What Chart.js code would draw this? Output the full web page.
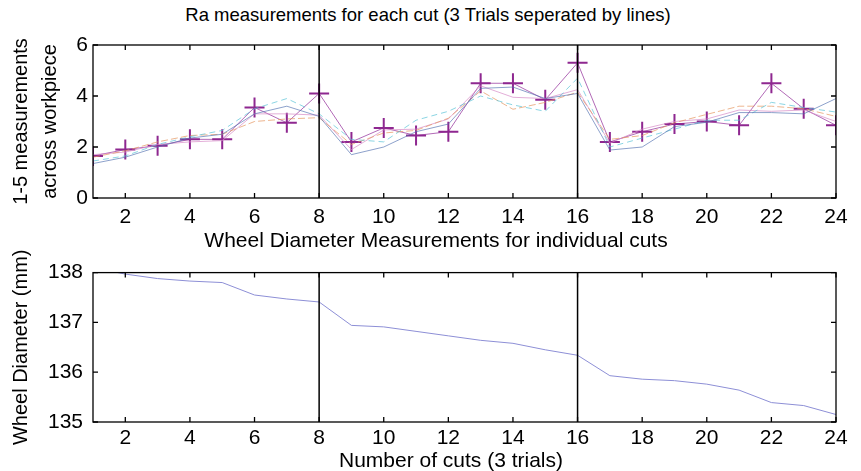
<!DOCTYPE html>
<html>
<head>
<meta charset="utf-8">
<script src="https://cdn.jsdelivr.net/npm/chart.js@4/dist/chart.umd.min.js"></script>
<style>
  body { margin: 0; background: #fff; width: 861px; height: 471px; overflow: hidden; position: relative; font-family: "Liberation Sans", Arial, sans-serif; }
  .box { position: absolute; left: 0; width: 861px; }
  .txt { position: absolute; left: 0; text-align: center; color: #000; white-space: nowrap; }
</style>
</head>
<body>

<div class="txt" style="top:5px;width:856px;font-size:18.5px;line-height:20px;">Ra measurements for each cut (3 Trials seperated by lines)</div>
<div class="box" style="top:0;height:250px;"><canvas id="ra" width="861" height="250"></canvas></div>
<div class="txt" style="top:228px;width:872px;font-size:21px;line-height:24px;">Wheel Diameter Measurements for individual cuts</div>
<div class="box" style="top:250px;height:221px;"><canvas id="wheel" width="861" height="221"></canvas></div>
<div class="txt" style="top:448px;width:902px;font-size:21px;line-height:24px;">Number of cuts (3 trials)</div>

<script>
// cut number 1..24, 3 trials of 8 cuts
const cuts = [1,2,3,4,5,6,7,8,9,10,11,12,13,14,15,16,17,18,19,20,21,22,23,24];
const trialBreaks = [8, 16];
const xTicks = [2,4,6,8,10,12,14,16,18,20,22,24];

// Ra, 5 measurements across the workpiece (the marked one is drawn with +)
const raMarked = [1.65,1.9,2.05,2.3,2.3,3.55,2.95,4.1,2.2,2.75,2.45,2.6,4.5,4.5,3.85,5.3,2.2,2.6,2.9,3.0,2.85,4.5,3.5,2.85];
const raBlue   = [1.35,1.6,2.0,2.35,2.5,3.3,3.6,3.2,1.7,2.0,2.6,2.9,4.3,4.35,3.9,4.1,1.88,2.0,2.8,2.97,3.35,3.35,3.3,3.9];
const raCyan   = [1.45,1.65,2.1,2.4,2.65,3.5,3.9,3.3,2.3,2.2,3.05,3.4,4.0,3.65,3.4,4.7,2.0,2.35,2.7,3.05,3.05,3.75,3.55,3.37];
const raOrange = [1.6,1.85,2.2,2.45,2.5,3.0,3.1,3.15,2.1,2.55,2.65,3.13,4.2,3.48,3.75,4.15,2.3,2.45,2.95,3.28,3.6,3.6,3.5,3.2];
const raPink   = [1.7,1.8,2.1,2.2,2.25,3.3,3.3,3.25,1.9,2.67,2.7,3.1,4.4,3.95,3.9,4.25,2.15,2.7,3.0,3.1,3.45,3.4,3.45,3.0];
const raTicks = [0,2,4,6];

// wheel diameter (mm)
const diameter = [138.1,137.97,137.88,137.83,137.8,137.55,137.47,137.41,136.94,136.91,136.82,136.73,136.64,136.58,136.45,136.34,135.93,135.86,135.83,135.76,135.64,135.39,135.33,135.15];
const diaTicks = [135,136,137,138];

function pts(ys) {
  return cuts.map(function (c, i) { return {x: c, y: ys[i]}; });
}

function breakLines(lo, hi) {
  return trialBreaks.map(function (b) {
    return {
      data: [{x: b, y: lo}, {x: b, y: hi}],
      borderColor: '#000', borderWidth: 1.5, pointRadius: 0, order: -1
    };
  });
}

// matlab style box with inward ticks
const boxTicks = {
  id: 'boxTicks',
  afterDraw: function (chart) {
    const ctx = chart.ctx, a = chart.chartArea;
    const xs = chart.scales.x, ys = chart.scales.y;
    const len = 5;
    ctx.save();
    ctx.strokeStyle = '#000';
    ctx.lineWidth = 1.3;
    ctx.strokeRect(a.left, a.top, a.right - a.left, a.bottom - a.top);
    ctx.beginPath();
    xs.ticks.forEach(function (t) {
      const px = xs.getPixelForValue(t.value);
      ctx.moveTo(px, a.bottom); ctx.lineTo(px, a.bottom - len);
      ctx.moveTo(px, a.top); ctx.lineTo(px, a.top + len);
    });
    ys.ticks.forEach(function (t) {
      const py = ys.getPixelForValue(t.value);
      ctx.moveTo(a.left, py); ctx.lineTo(a.left + len, py);
      ctx.moveTo(a.right, py); ctx.lineTo(a.right - len, py);
    });
    ctx.stroke();
    ctx.restore();
  }
};

function xScale(h, pad) {
  return {
    type: 'linear', min: 1, max: 24,
    grid: {display: false, drawTicks: false},
    border: {display: false},
    ticks: {color: '#000', font: {family: 'Liberation Sans', size: 21}, padding: pad, maxRotation: 0},
    afterBuildTicks: function (s) { s.ticks = xTicks.map(function (v) { return {value: v}; }); },
    afterFit: function (s) { s.height = h; }
  };
}

function yScale(lo, hi, ticks, title, lh, tpad, pad) {
  return {
    min: lo, max: hi,
    grid: {display: false, drawTicks: false},
    border: {display: false},
    ticks: {color: '#000', font: {family: 'Liberation Sans', size: 21}, padding: pad},
    afterBuildTicks: function (s) { s.ticks = ticks.map(function (v) { return {value: v}; }); },
    afterFit: function (s) { s.width = 93; },
    title: {display: true, text: title, color: '#000',
      font: {family: 'Liberation Sans', size: 20, lineHeight: lh}, padding: {top: tpad, bottom: 0}}
  };
}

Chart.defaults.font.family = 'Liberation Sans';

new Chart(document.getElementById('ra'), {
  type: 'line',
  data: {
    datasets: [
      {data: pts(raBlue), borderColor: 'rgba(80,110,175,0.65)', borderWidth: 1, pointRadius: 0},
      {data: pts(raCyan), borderColor: 'rgba(90,195,215,0.7)', borderWidth: 1, borderDash: [6, 4], pointRadius: 0},
      {data: pts(raOrange), borderColor: 'rgba(230,150,95,0.7)', borderWidth: 1, borderDash: [7, 3], pointRadius: 0},
      {data: pts(raPink), borderColor: 'rgba(215,140,200,0.7)', borderWidth: 1, pointRadius: 0},
      {data: pts(raMarked), borderColor: 'rgba(170,90,175,0.9)', borderWidth: 1,
        pointStyle: 'cross', pointRadius: 10, pointBorderWidth: 2,
        pointBorderColor: '#8e2790', pointBackgroundColor: '#8e2790'}
    ].concat(breakLines(0, 6))
  },
  options: {
    responsive: false, animation: false,
    layout: {padding: {top: 45, right: 25, left: 0, bottom: 0}},
    plugins: {legend: {display: false}, tooltip: {enabled: false}},
    scales: {
      x: xScale(52, 7),
      y: yScale(0, 6, raTicks, ['1-5 measurements', 'across workpiece'], '29px', 7, 5)
    }
  },
  plugins: [boxTicks]
});

new Chart(document.getElementById('wheel'), {
  type: 'line',
  data: {
    datasets: [
      {data: pts(diameter), borderColor: '#8d8fd6', borderWidth: 1, pointRadius: 0}
    ].concat(breakLines(135, 138))
  },
  options: {
    responsive: false, animation: false,
    layout: {padding: {top: 15, right: 25, left: 0, bottom: 0}},
    plugins: {legend: {display: false}, tooltip: {enabled: false}},
    scales: {
      x: xScale(49, 4),
      y: yScale(135, 138, diaTicks, 'Wheel Diameter (mm)', 1.2, 9, 10)
    }
  },
  plugins: [boxTicks]
});
</script>
</body>
</html>
